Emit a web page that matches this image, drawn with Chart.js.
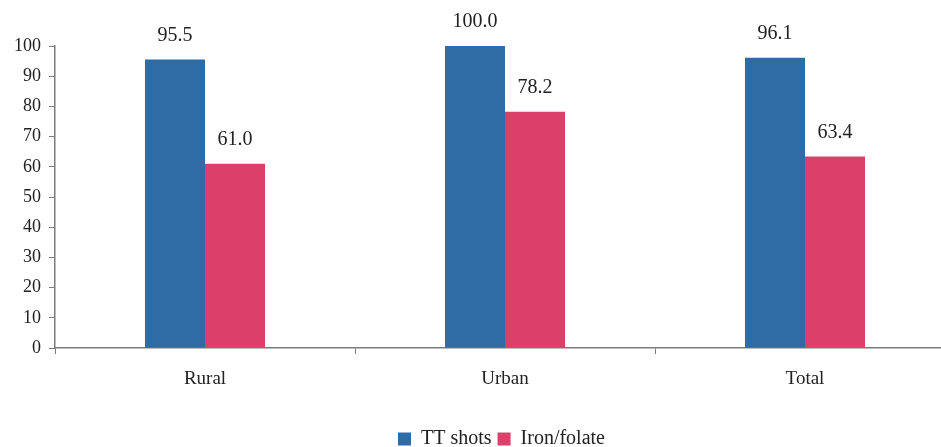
<!DOCTYPE html>
<html>
<head>
<meta charset="utf-8">
<script src="https://cdn.jsdelivr.net/npm/chart.js@4/dist/chart.umd.min.js"></script>
<style>
  html, body { margin: 0; padding: 0; background: #fff; overflow: hidden; }
  #wrap { width: 941px; height: 447px; overflow: hidden; }
  canvas { display: block; }
</style>
</head>
<body>
<div id="wrap"><canvas id="c" width="960" height="459"></canvas></div>
<script>
const categories = ['Rural', 'Urban', 'Total'];
const ttShots = [95.5, 100.0, 96.1];
const ironFolate = [61.0, 78.2, 63.4];
const seriesNames = ['TT shots', 'Iron/folate'];

const FONT = "'Liberation Serif', 'Times New Roman', serif";
const AXIS = '#7a7a7a';

// Value printed above each bar
const valueLabels = {
  id: 'valueLabels',
  afterDatasetsDraw(chart) {
    const ctx = chart.ctx;
    ctx.save();
    ctx.font = '20px ' + FONT;
    ctx.fillStyle = '#222';
    ctx.textAlign = 'center';
    ctx.textBaseline = 'middle';
    chart.data.datasets.forEach((ds, i) => {
      chart.getDatasetMeta(i).data.forEach((bar, j) => {
        ctx.fillText(ds.data[j].toFixed(1), bar.x, bar.y - 24);
      });
    });
    ctx.restore();
  }
};

// Nudge the legend block a little to the right of the canvas centre
const legendShift = {
  id: 'legendShift',
  afterLayout(chart) {
    if (chart.legend) {
      chart.legend.left += 24;
      chart.legend.right += 24;
    }
  }
};

new Chart(document.getElementById('c'), {
  type: 'bar',
  data: {
    labels: categories,
    datasets: [
      { label: seriesNames[0], data: ttShots, backgroundColor: '#2F6CA6' },
      { label: seriesNames[1], data: ironFolate, backgroundColor: '#DC406A' }
    ]
  },
  options: {
    responsive: false,
    animation: false,
    layout: { padding: { top: 46, right: 5, left: 0, bottom: 0 } },
    datasets: { bar: { categoryPercentage: 0.4, barPercentage: 1.0 } },
    plugins: {
      tooltip: { enabled: false },
      legend: {
        position: 'bottom',
        labels: {
          font: { family: FONT, size: 20 },
          color: '#222',
          boxWidth: 13,
          boxHeight: 13,
          padding: 6
        }
      }
    },
    scales: {
      x: {
        offset: true,
        grid: { drawOnChartArea: false, offset: true, tickLength: 6, color: AXIS, tickColor: AXIS },
        border: { color: AXIS, width: 1.5 },
        ticks: { font: { family: FONT, size: 19 }, color: '#222', padding: 14 },
        afterFit(s) { s.height = 75; }
      },
      y: {
        min: 0, max: 100,
        grid: { drawOnChartArea: false, tickLength: 6, color: AXIS, tickColor: AXIS },
        border: { color: AXIS, width: 1.5 },
        ticks: { stepSize: 10, font: { family: FONT, size: 18 }, color: '#222', padding: 8 },
        afterFit(s) { s.width = 55; }
      }
    }
  },
  plugins: [valueLabels, legendShift]
});
</script>
</body>
</html>
